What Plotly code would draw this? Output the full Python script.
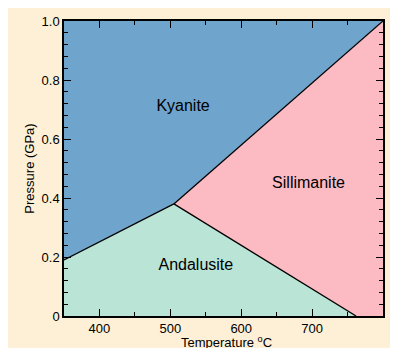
import plotly.graph_objects as go

# Data (Temperature °C, Pressure GPa)
triple_point = (505, 0.38)
ky_and_boundary_T = [350, 505]
ky_and_boundary_P = [0.19, 0.38]
ky_sil_boundary_T = [505, 800]
ky_sil_boundary_P = [0.38, 1.0]
and_sil_boundary_T = [505, 762]
and_sil_boundary_P = [0.38, 0.0]

T_min, T_max = 350, 800
P_min, P_max = 0.0, 1.0

phase_names = ["Kyanite", "Sillimanite", "Andalusite"]
label_T = [518, 695, 536]
label_P = [0.708, 0.447, 0.17]

x_ticks = [400, 500, 600, 700, 800]
y_ticks = [0, 0.2, 0.4, 0.6, 0.8, 1.0]
y_tick_labels = ["0", "0.2", "0.4", "0.6", "0.8", "1.0"]

c_ky = "#6fa5cd"
c_sil = "#fcbac2"
c_and = "#b9e4d6"
cream = "#fdf0d6"
FONT = "Liberation Sans, Arial, sans-serif"

fig = go.Figure()

# Kyanite region
fig.add_trace(go.Scatter(
    x=[T_min, ky_and_boundary_T[1], ky_sil_boundary_T[1], T_min],
    y=[ky_and_boundary_P[0], ky_and_boundary_P[1], ky_sil_boundary_P[1], P_max],
    fill="toself", fillcolor=c_ky, line=dict(width=0), mode="lines",
    hoverinfo="skip", showlegend=False))
# Sillimanite region
fig.add_trace(go.Scatter(
    x=[triple_point[0], ky_sil_boundary_T[1], T_max, and_sil_boundary_T[1]],
    y=[triple_point[1], ky_sil_boundary_P[1], P_min, and_sil_boundary_P[1]],
    fill="toself", fillcolor=c_sil, line=dict(width=0), mode="lines",
    hoverinfo="skip", showlegend=False))
# Andalusite region
fig.add_trace(go.Scatter(
    x=[T_min, T_min, triple_point[0], and_sil_boundary_T[1]],
    y=[P_min, ky_and_boundary_P[0], triple_point[1], and_sil_boundary_P[1]],
    fill="toself", fillcolor=c_and, line=dict(width=0), mode="lines",
    hoverinfo="skip", showlegend=False))

# Boundaries
for bx, by in [(ky_and_boundary_T, ky_and_boundary_P),
               (ky_sil_boundary_T, ky_sil_boundary_P),
               (and_sil_boundary_T, and_sil_boundary_P)]:
    fig.add_trace(go.Scatter(x=bx, y=by, mode="lines",
                             line=dict(color="black", width=1.3),
                             hoverinfo="skip", showlegend=False))

# Labels
fig.add_trace(go.Scatter(x=label_T, y=label_P, mode="text", text=phase_names,
                         textfont=dict(size=16, color="black", family=FONT),
                         hoverinfo="skip", showlegend=False))

axis_common = dict(
    showgrid=False, zeroline=False, showline=True, linecolor="black",
    linewidth=1.5, mirror="allticks", ticks="inside", ticklen=7,
    tickwidth=1.3, tickcolor="black",
    tickfont=dict(size=13, color="black", family=FONT),
)

fig.update_xaxes(
    range=[T_min, T_max], tickvals=x_ticks,
    minor=dict(dtick=50, ticklen=4, tickwidth=1, tickcolor="black", ticks="inside"),
    **axis_common)
fig.update_yaxes(
    range=[P_min, P_max], tickvals=y_ticks, ticktext=y_tick_labels,
    title=dict(text="Pressure (GPa)", standoff=4,
               font=dict(size=13, color="black", family=FONT)),
    minor=dict(dtick=0.04, ticklen=4, tickwidth=1, tickcolor="black", ticks="inside"),
    **axis_common)

fig.add_annotation(text="Temperature <sup>o</sup>C", xref="paper", yref="paper",
                   x=0.51, y=-0.088, xanchor="center", yanchor="middle",
                   showarrow=False, font=dict(size=13, color="black", family=FONT))

fig.update_layout(
    width=382, height=340,
    margin=dict(l=56, r=5, t=13, b=32),
    paper_bgcolor=cream, plot_bgcolor=cream,
)

fig.write_html("out.html")
